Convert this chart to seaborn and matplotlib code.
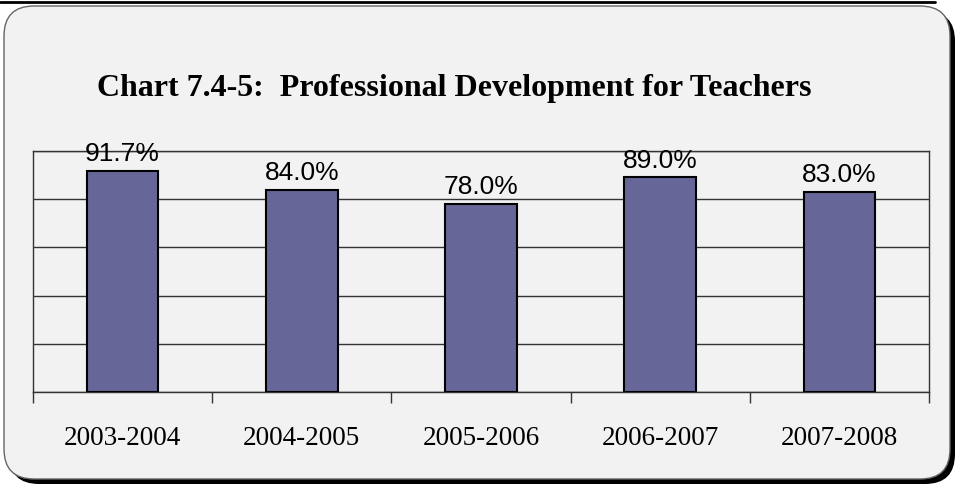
import matplotlib
matplotlib.use("Agg")
import matplotlib.pyplot as plt
from matplotlib.patches import FancyBboxPatch
import seaborn as sns
import pandas as pd

years = ['2003-2004', '2004-2005', '2005-2006', '2006-2007', '2007-2008']
percent = [91.7, 84.0, 78.0, 89.0, 83.0]
title = 'Chart 7.4-5:  Professional Development for Teachers'

df = pd.DataFrame({'year': years, 'pct': percent})

sns.set_style('white')
plt.rcParams['text.color'] = 'black'
fig = plt.figure(figsize=(9.57, 4.89), dpi=100)
fig.patch.set_facecolor('white')

# background panel in pixel coordinates
bg = fig.add_axes([0, 0, 1, 1], zorder=-1)
bg.set_xlim(0, 957)
bg.set_ylim(489, 0)
bg.axis('off')
bg.plot([0, 935], [3, 3], color='black', lw=2)
shadow = FancyBboxPatch((9, 12), 946, 473, boxstyle='round,pad=0,rounding_size=30',
                        facecolor='black', edgecolor='none')
panel = FancyBboxPatch((4, 7), 946, 473, boxstyle='round,pad=0,rounding_size=30',
                       facecolor='#f2f2f2', edgecolor='#666666', lw=1)
bg.add_patch(shadow)
bg.add_patch(panel)

fig.text(0.475, 0.82, title, ha='center', va='center', fontsize=23,
         fontweight='bold', family='Liberation Serif', color='black')

ax = fig.add_axes([0.0345, 0.1963, 0.9362, 0.4929])
ax.patch.set_alpha(0)
sns.barplot(data=df, x='year', y='pct', color='#666699', width=0.4,
            edgecolor='black', linewidth=1.5, saturation=1, ax=ax, zorder=3)
ax.set_xlim(-0.5, 4.5)
ax.set_ylim(0, 100)
ax.set_yticks([0, 20, 40, 60, 80, 100])
ax.set_yticklabels([])
ax.tick_params(axis='y', length=0)
ax.yaxis.grid(True, color='#333333', lw=1)
ax.set_axisbelow(True)
ax.set_xlabel('')
ax.set_ylabel('')

ax.set_xticks([i - 0.5 for i in range(6)])
ax.set_xticklabels([])
ax.set_xticks(range(5), minor=True)
ax.set_xticklabels(years, minor=True, fontsize=19.5, family='Liberation Serif', color='black')
ax.tick_params(axis='x', which='major', bottom=True, direction='out', length=8, width=1, color='#333333')
ax.tick_params(axis='x', which='minor', bottom=True, length=0, pad=24)

for side in ['left', 'right', 'bottom', 'top']:
    ax.spines[side].set_visible(True)
    ax.spines[side].set_color('#333333')
    ax.spines[side].set_linewidth(1)

ax.bar_label(ax.containers[0], fmt='%.1f%%', padding=4, fontsize=19,
             family='Liberation Sans', color='black')

fig.savefig('out.png', dpi=100)
